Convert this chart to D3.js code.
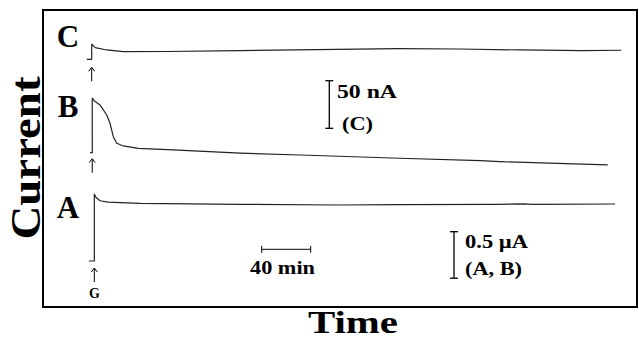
<!DOCTYPE html>
<html>
<head>
<meta charset="utf-8">
<script src="https://cdn.jsdelivr.net/npm/d3@7"></script>
<style>
  html, body { margin: 0; padding: 0; background: #fff; }
  svg { display: block; }
</style>
</head>
<body>
<script>
// ---- Data (time in minutes after glucose injection) ----
const traceLabels = ["A", "B", "C"];
// Trace A (µA)
const timeA = [-2.5, 1.9, 1.9, 3, 6.5, 13, 39, 121, 200, 250, 330, 352, 360, 427];
const currentA = [0, 0, 0.72, 0.688, 0.648, 0.634, 0.620, 0.609, 0.602, 0.607, 0.609, 0.615, 0.608, 0.613];
// Trace B (µA)
const timeB = [-1.6, 0.2, 0.2, 2, 6.5, 12, 14.7, 17.4, 20.2, 25.6, 37.8, 66, 121, 170, 251, 317, 333, 421];
const currentB = [0, 0, 0.585, 0.556, 0.513, 0.405, 0.316, 0.172, 0.101, 0.072, 0.047, 0.029, -0.006, -0.025, -0.060, -0.086, -0.097, -0.132];
// Trace C (nA)
const timeC = [-4.3, -0.25, -0.25, 2.6, 12, 25.6, 60, 120, 200, 250, 300, 350, 400, 432];
const currentC = [0, 0, 15.8, 12.2, 9.8, 8.0, 8.2, 9.2, 10.5, 11.3, 10.8, 9.8, 9.2, 9.5];
// Scale-bar values
const timeBar = 40;        // min
const currentBarAB = 0.5;  // µA
const currentBarC = 50;    // nA

const W = 639, H = 343;
const FONT = "Liberation Serif";
const svg = d3.select("body").append("svg").attr("width", W).attr("height", H);

// Scales
const x = d3.scaleLinear().domain([0, 40]).range([92, 141]);
const y = d3.scaleLinear().domain([0, 1]).range([261, 168]);        // µA, A/B
const yC = d3.scaleLinear().domain([0, 50]).range([59.3, 11.7]);   // nA, C
const offsetA = 0, offsetB = 1.165;

function txt(xp, yp, size, s) {
  return svg.append("text").attr("x", xp).attr("y", yp).attr("font-family", FONT)
    .attr("font-weight", "bold").attr("font-size", size).attr("fill", "#000").text(s);
}

// Frame
svg.append("rect").attr("x", 43).attr("y", 10).attr("width", 594).attr("height", 297)
  .attr("fill", "none").attr("stroke", "#000").attr("stroke-width", 2);

const line = (ys, off) => d3.line().x(d => x(d[0])).y(d => ys(d[1] + off));
const traceStyle = s => s.attr("fill", "none").attr("stroke", "#222").attr("stroke-width", 1.2).attr("stroke-linejoin", "round");

const dA = d3.zip(timeA, currentA), dB = d3.zip(timeB, currentB), dC = d3.zip(timeC, currentC);
traceStyle(svg.append("path").attr("d", line(y, offsetA)(dA)));
traceStyle(svg.append("path").attr("d", line(y, offsetB)(dB)));
traceStyle(svg.append("path").attr("d", line(yC, 0)(dC)));

// Arrows under injection points
function arrow(px, top) {
  const g = svg.append("g").attr("stroke", "#000").attr("stroke-width", 1).attr("fill", "none");
  g.append("line").attr("x1", px).attr("x2", px).attr("y1", top + 1).attr("y2", top + 14);
  g.append("path").attr("d", `M${px - 3},${top + 4} L${px},${top} L${px + 3},${top + 4}`);
}
arrow(x(1.9), y(offsetA) + 7);
arrow(x(0.2), y(offsetB) + 6);
arrow(x(-0.25), yC(0) + 8);
txt(x(1.9), 298, 14, "G").attr("text-anchor", "middle");

// Trace labels
const labelY = { A: 218, B: 117, C: 47 };
traceLabels.forEach(l => txt(68, labelY[l], 31, l).attr("text-anchor", "middle"));

// Axis titles
svg.append("text").attr("transform", "translate(40,158) rotate(-90)").attr("text-anchor", "middle")
  .attr("font-family", FONT).attr("font-weight", "bold")
  .attr("font-size", 42).attr("textLength", 163).attr("lengthAdjust", "spacingAndGlyphs").text("Current");
txt(353, 333, 32, "Time").attr("text-anchor", "middle").attr("textLength", 90).attr("lengthAdjust", "spacingAndGlyphs");

// Vertical scale bar helper
function vbar(px, top, len) {
  const g = svg.append("g").attr("stroke", "#000").attr("stroke-width", 1.3);
  g.append("line").attr("x1", px).attr("x2", px).attr("y1", top).attr("y2", top + len);
  g.append("line").attr("x1", px - 4).attr("x2", px + 4).attr("y1", top).attr("y2", top);
  g.append("line").attr("x1", px - 4).attr("x2", px + 4).attr("y1", top + len).attr("y2", top + len);
}
// 50 nA (C)
vbar(329.3, 80.7, yC(0) - yC(currentBarC));
txt(337, 98, 19, "50 nA").attr("textLength", 60).attr("lengthAdjust", "spacingAndGlyphs");
txt(342, 130, 19, "(C)").attr("textLength", 31).attr("lengthAdjust", "spacingAndGlyphs");
// 0.5 µA (A, B)
vbar(454, 231.7, y(0) - y(currentBarAB));
txt(465, 247.5, 19, "0.5 µA").attr("textLength", 63).attr("lengthAdjust", "spacingAndGlyphs");
txt(465, 275, 19, "(A, B)").attr("textLength", 57).attr("lengthAdjust", "spacingAndGlyphs");

// Time scale bar: 40 min
const tb = svg.append("g").attr("stroke", "#000").attr("stroke-width", 1);
const tx0 = 261.7, tlen = x(timeBar) - x(0), ty = 249.3;
tb.append("line").attr("x1", tx0).attr("x2", tx0 + tlen).attr("y1", ty).attr("y2", ty);
tb.append("line").attr("x1", tx0).attr("x2", tx0).attr("y1", ty - 3.5).attr("y2", ty + 3.5);
tb.append("line").attr("x1", tx0 + tlen).attr("x2", tx0 + tlen).attr("y1", ty - 3.5).attr("y2", ty + 3.5);
txt(250, 273.5, 19, "40 min").attr("textLength", 65).attr("lengthAdjust", "spacingAndGlyphs");
</script>
</body>
</html>
